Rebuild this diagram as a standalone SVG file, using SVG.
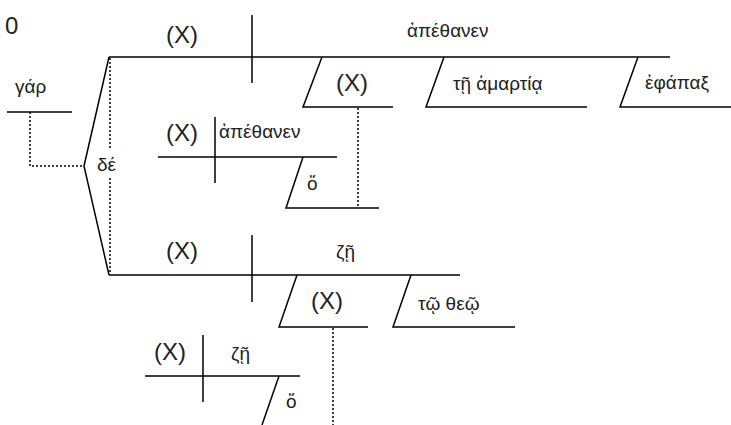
<svg xmlns="http://www.w3.org/2000/svg" width="731" height="425" viewBox="0 0 731 425">
<style>
.ln{stroke:#000;stroke-width:1.5;fill:none}
.dt{stroke:#000;stroke-width:1.5;fill:none;stroke-dasharray:2 2}
.x{font-family:"Liberation Sans",Arial,sans-serif;font-size:24px;fill:#222}
.g{font-family:"Liberation Sans","DejaVu Sans",sans-serif;font-size:19px;fill:#222}
</style>
<rect width="731" height="425" fill="#fff"/>
<g id="label0"><text class="x" x="5" y="34">0</text></g>
<g id="gar">
<line class="ln" x1="7" y1="112" x2="72" y2="112"/>
<text class="g" x="15" y="93">γάρ</text>
</g>
<g id="de">
<polyline class="ln" points="109,57 84,166 109,275"/>
<text class="g" x="97" y="171">δέ</text>
</g>
<g id="clause1">
<line class="ln" x1="109" y1="57" x2="670" y2="57"/>
<line class="ln" x1="252" y1="15" x2="252" y2="83"/>
<text class="x" x="166" y="43">(X)</text>
<text class="g" x="407" y="37">ἀπέθανεν</text>
</g>
<g id="mod1">
<polyline class="ln" points="322,57 303,107 393,107"/>
<text class="x" x="336" y="91">(X)</text>
</g>
<g id="mod2">
<polyline class="ln" points="444,57 426,107 587,107"/>
<text class="g" x="453" y="90">τῇ ἁμαρτίᾳ</text>
</g>
<g id="mod3">
<polyline class="ln" points="638,57 620,107 731,107"/>
<text class="g" x="645" y="89">ἐφάπαξ</text>
</g>
<g id="relclause1">
<line class="ln" x1="158" y1="157" x2="337" y2="157"/>
<line class="ln" x1="215" y1="117" x2="215" y2="183"/>
<text class="x" x="166" y="141">(X)</text>
<text class="g" x="219" y="138">ἀπέθανεν</text>
</g>
<g id="relobj1">
<polyline class="ln" points="303,157 286,208 379,208"/>
<text class="g" x="307" y="190">ὅ</text>
</g>
<g id="clause2">
<line class="ln" x1="109" y1="275" x2="460" y2="275"/>
<line class="ln" x1="252" y1="235" x2="252" y2="302"/>
<text class="x" x="166" y="259">(X)</text>
<text class="g" x="336" y="258">ζῇ</text>
</g>
<g id="mod4">
<polyline class="ln" points="297,275 279,327 368,327"/>
<text class="x" x="311" y="309">(X)</text>
</g>
<g id="mod5">
<polyline class="ln" points="411,275 393,327 515,327"/>
<text class="g" x="418" y="310">τῷ θεῷ</text>
</g>
<g id="relclause2">
<line class="ln" x1="145" y1="376" x2="300" y2="376"/>
<line class="ln" x1="203" y1="335" x2="203" y2="402"/>
<text class="x" x="154" y="360">(X)</text>
<text class="g" x="231" y="360">ζῇ</text>
</g>
<g id="relobj2">
<line class="ln" x1="279" y1="376" x2="262" y2="425"/>
<text class="g" x="286" y="408">ὅ</text>
</g>
<g id="connectors">
<polyline class="dt" points="30,112 30,166 84,166"/>
<line class="dt" x1="110" y1="58" x2="110" y2="148"/>
<line class="dt" x1="110" y1="178" x2="110" y2="274"/>
<line class="dt" x1="358" y1="108" x2="358" y2="208"/>
<line class="dt" x1="333" y1="328" x2="333" y2="425"/>
</g>
</svg>
